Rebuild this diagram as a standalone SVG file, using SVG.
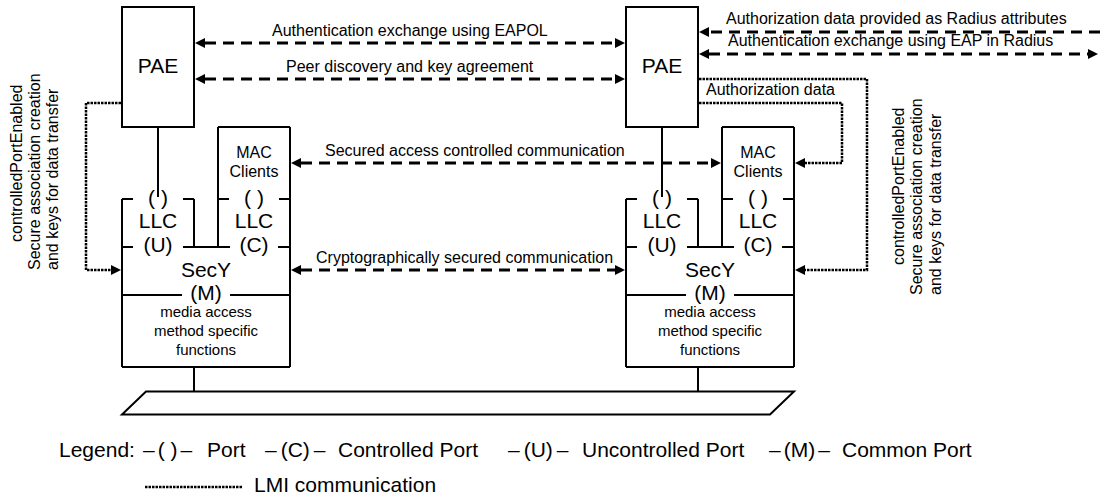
<svg xmlns="http://www.w3.org/2000/svg" width="1100" height="496" viewBox="0 0 1100 496">
<style>
  text { font-family: "Liberation Sans", Arial, sans-serif; fill: #000; }
  .ln { fill: none; stroke: #000; stroke-width: 2; }
  .big { font-size: 21px; text-anchor: middle; }
  .mac { font-size: 16px; text-anchor: middle; }
  .media { font-size: 15px; text-anchor: middle; }
  .lbl { font-size: 16px; }
  .leg { font-size: 21px; }
  .dash { fill: none; stroke: #000; stroke-width: 3; stroke-dasharray: 11 7; }
  .lmi { fill: none; stroke: #000; stroke-width: 2.5; stroke-dasharray: 2.5 1; }
</style>
<defs>
  <marker id="ah" markerUnits="userSpaceOnUse" markerWidth="12" markerHeight="12" viewBox="0 -6 12 12" refX="0" refY="0" orient="auto-start-reverse">
    <path d="M0,-5 L10,0 L0,5 z" fill="#000"/>
  </marker>
</defs>
<rect width="1100" height="496" fill="#fff"/>

<!-- Left PAE -->
<g id="pae-left">
  <rect class="ln" x="122" y="7" width="72" height="120"/>
  <text class="big" x="158" y="73">PAE</text>
</g>

<!-- Left station -->
<g id="station-left">
  <path class="ln" d="M218,127 H290 M218,127 V247 M290,127 V367 M218,199 H229 M279,199 H290 M122,199 H133 M183,199 H194 M122,199 V367 M194,199 V247 M122,247 H133 M183,247 H230 M278,247 H290 M122,295 H182 M230,295 H290 M122,367 H290 M158,127 V197 M194,367 V391.5"/>
  <text class="mac" x="254" y="158">MAC</text>
  <text class="mac" x="254" y="176.5">Clients</text>
  <text class="big" x="158" y="205">( )</text>
  <text class="big" x="158" y="228">LLC</text>
  <text class="big" x="158" y="252">(U)</text>
  <text class="big" x="254" y="205">( )</text>
  <text class="big" x="254" y="228">LLC</text>
  <text class="big" x="254" y="252">(C)</text>
  <text class="big" x="206" y="277">SecY</text>
  <text class="big" x="206" y="300">(M)</text>
  <text class="media" x="206" y="316.5">media access</text>
  <text class="media" x="206" y="336">method specific</text>
  <text class="media" x="206" y="355">functions</text>
</g>

<!-- Right PAE -->
<g id="pae-right">
  <rect class="ln" x="626" y="7" width="72" height="120"/>
  <text class="big" x="662" y="73">PAE</text>
</g>

<!-- Right station -->
<g id="station-right">
  <path class="ln" d="M722,127 H794 M722,127 V247 M794,127 V367 M722,199 H733 M783,199 H794 M626,199 H637 M687,199 H698 M626,199 V367 M698,199 V247 M626,247 H637 M687,247 H734 M782,247 H794 M626,295 H686 M734,295 H794 M626,367 H794 M662,127 V197 M698,367 V391.5"/>
  <text class="mac" x="758" y="158">MAC</text>
  <text class="mac" x="758" y="176.5">Clients</text>
  <text class="big" x="662" y="205">( )</text>
  <text class="big" x="662" y="228">LLC</text>
  <text class="big" x="662" y="252">(U)</text>
  <text class="big" x="758" y="205">( )</text>
  <text class="big" x="758" y="228">LLC</text>
  <text class="big" x="758" y="252">(C)</text>
  <text class="big" x="710" y="277">SecY</text>
  <text class="big" x="710" y="300">(M)</text>
  <text class="media" x="710" y="316.5">media access</text>
  <text class="media" x="710" y="336">method specific</text>
  <text class="media" x="710" y="355">functions</text>
</g>

<!-- LAN -->
<g id="lan">
  <polygon class="ln" points="146,391.5 794,391.5 770,414.5 122,414.5"/>
</g>

<!-- Connectors -->
<g id="connectors">
  <path class="dash" d="M205,43 H615" marker-start="url(#ah)" marker-end="url(#ah)"/>
  <path class="dash" d="M205,79 H615" marker-start="url(#ah)" marker-end="url(#ah)"/>
  <path class="dash" d="M301,163 H711" marker-start="url(#ah)" marker-end="url(#ah)"/>
  <path class="dash" d="M301,270 H615" marker-start="url(#ah)" marker-end="url(#ah)"/>
  <path class="dash" d="M1100,32 H709" marker-end="url(#ah)"/>
  <path class="dash" d="M709,54 H1088" marker-start="url(#ah)" marker-end="url(#ah)"/>
  <path class="lmi" d="M121,103 H86 V270 H111" marker-end="url(#ah)"/>
  <path class="lmi" d="M699,103 H842 V163 H805" marker-end="url(#ah)"/>
  <path class="lmi" d="M699,79 H867 V270 H805" marker-end="url(#ah)"/>
</g>

<!-- Connector labels -->
<g id="labels">
  <text class="lbl" x="272" y="36">Authentication exchange using EAPOL</text>
  <text class="lbl" x="286" y="72">Peer discovery and key agreement</text>
  <text class="lbl" x="325" y="156">Secured access controlled communication</text>
  <text class="lbl" x="316" y="263">Cryptographically secured communication</text>
  <text class="lbl" x="726" y="24">Authorization data provided as Radius attributes</text>
  <text class="lbl" x="728" y="46">Authentication exchange using EAP in Radius</text>
  <text class="lbl" x="706" y="95">Authorization data</text>
  <text class="lbl" transform="translate(22,242) rotate(-90)">controlledPortEnabled</text>
  <text class="lbl" transform="translate(40,270) rotate(-90)">Secure association creation</text>
  <text class="lbl" transform="translate(58,270) rotate(-90)">and keys for data transfer</text>
  <text class="lbl" transform="translate(904,265) rotate(-90)">controlledPortEnabled</text>
  <text class="lbl" transform="translate(922,295) rotate(-90)">Secure association creation</text>
  <text class="lbl" transform="translate(940.5,295) rotate(-90)">and keys for data transfer</text>
</g>

<!-- Legend -->
<g id="legend">
  <text class="leg" x="59" y="456.5">Legend:</text>
  <text class="leg" x="143" y="456.5">–<tspan dx="3">( )</tspan><tspan dx="3">–</tspan></text>
  <text class="leg" x="207" y="456.5">Port</text>
  <text class="leg" x="265" y="456.5">–<tspan dx="4">(C)</tspan><tspan dx="4">–</tspan></text>
  <text class="leg" x="338" y="456.5">Controlled Port</text>
  <text class="leg" x="508" y="456.5">–<tspan dx="4">(U)</tspan><tspan dx="4">–</tspan></text>
  <text class="leg" x="582" y="456.5">Uncontrolled Port</text>
  <text class="leg" x="769" y="456.5">–<tspan dx="3">(M)</tspan><tspan dx="3">–</tspan></text>
  <text class="leg" x="842" y="456.5">Common Port</text>
  <path class="lmi" d="M145,487 H242"/>
  <text class="leg" x="254" y="491.5">LMI communication</text>
</g>
</svg>
